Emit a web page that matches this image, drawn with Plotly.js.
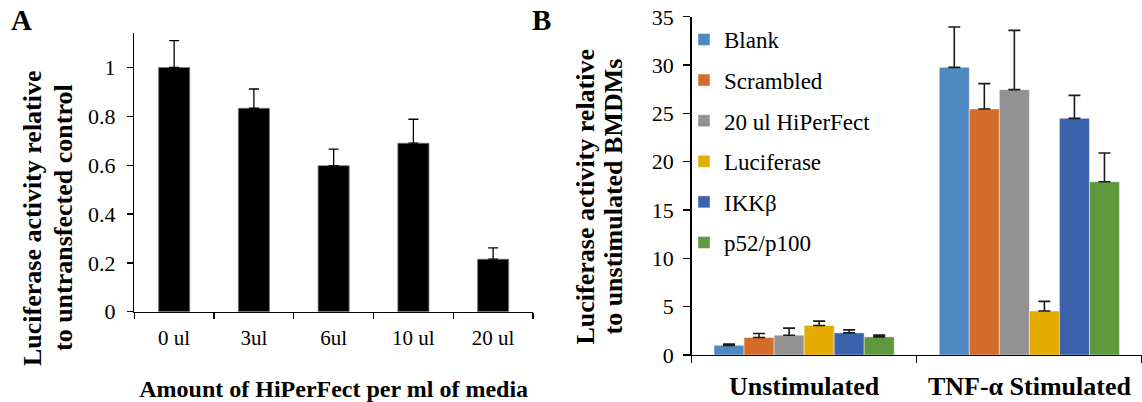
<!DOCTYPE html>
<html><head><meta charset="utf-8">
<script src="https://cdn.plot.ly/plotly-3.0.1.min.js"></script>
<style>html,body{margin:0;padding:0;background:#fff}#chart{width:1142px;height:402px}</style>
</head><body><div id="chart"></div>
<script>
// Panel A data
const doseLabels = ['0 ul', '3ul', '6ul', '10 ul', '20 ul'];
const doseValues = [1.0, 0.833, 0.598, 0.690, 0.215];
const doseErrors = [0.11, 0.079, 0.068, 0.098, 0.046];

// Panel B data
const conditions = ['Unstimulated', 'TNF-α Stimulated'];
const seriesNames = ['Blank', 'Scrambled', '20 ul HiPerFect', 'Luciferase', 'IKKβ', 'p52/p100'];
const blankValues = [1.0, 29.77];
const blankErrors = [0.14, 4.17];
const scrambledValues = [1.81, 25.46];
const scrambledErrors = [0.42, 2.62];
const hiperfectValues = [2.05, 27.46];
const hiperfectErrors = [0.73, 6.14];
const luciferaseValues = [3.06, 4.55];
const luciferaseErrors = [0.45, 1.0];
const ikkbValues = [2.29, 24.49];
const ikkbErrors = [0.31, 2.38];
const p52Values = [1.875, 17.93];
const p52Errors = [0.18, 2.97];
const seriesColors = ['#4F88BF', '#D46C2A', '#929292', '#E4AC00', '#3B63AC', '#60983E'];

// Axis titles
const titleA1 = 'Luciferase activity relative';
const titleA2 = 'to untransfected control';
const titleAx = 'Amount of HiPerFect per ml of media';
const titleB1 = 'Luciferase activity relative';
const titleB2 = 'to unstimulated BMDMs';

const serif = 'Liberation Serif, Times New Roman, serif';
const W = 1142, H = 402;
const px = v => v / W, py = v => (H - v) / H;

const bValues = [blankValues, scrambledValues, hiperfectValues, luciferaseValues, ikkbValues, p52Values];
const bErrors = [blankErrors, scrambledErrors, hiperfectErrors, luciferaseErrors, ikkbErrors, p52Errors];

const traces = [{
  type: 'bar', x: doseLabels, y: doseValues, xaxis: 'x', yaxis: 'y',
  width: 0.39, showlegend: false,
  marker: {color: '#000000', line: {color: '#7a7a7a', width: 0.8}},
  error_y: {type: 'data', array: doseErrors, symmetric: false, arrayminus: doseErrors.map(() => 0),
            color: '#000', thickness: 1.3, width: 5},
  hoverinfo: 'x+y'
}];

seriesNames.forEach((name, i) => {
  traces.push({
    type: 'bar', name: name, x: conditions, y: bValues[i], xaxis: 'x2', yaxis: 'y2',
    legendgroup: 'g' + i,
    marker: {color: seriesColors[i], line: {color: 'rgba(255,255,255,0.45)', width: 1}},
    error_y: {type: 'data', array: bErrors[i], symmetric: false, arrayminus: bErrors[i].map(() => 0),
              color: '#1a1a1a', thickness: 1.6, width: 6}
  });
});

const ytitle = (text, x, y) => ({
  text: '<b>' + text + '</b>', xref: 'paper', yref: 'paper', x: px(x), y: py(y),
  xanchor: 'center', yanchor: 'middle', textangle: -90, showarrow: false,
  font: {family: serif, size: 26, color: '#000'}
});

const layout = {
  width: W, height: H,
  margin: {l: 0, r: 0, t: 0, b: 0},
  paper_bgcolor: '#fff', plot_bgcolor: '#fff',
  font: {family: serif, color: '#000', size: 20},
  barmode: 'group', bargap: 0.2, bargroupgap: 0,
  showlegend: true,
  legend: {
    x: px(684), y: py(18), xanchor: 'left', yanchor: 'top',
    font: {family: serif, size: 23, color: '#000'},
    tracegroupgap: 7.7, bgcolor: 'rgba(0,0,0,0)', borderwidth: 0
  },
  xaxis: {
    domain: [px(134.3), px(533)], anchor: 'y', type: 'category',
    range: [-0.5, 4.5], tickson: 'boundaries',
    showline: true, linecolor: '#000', linewidth: 1.3,
    ticks: 'outside', ticklen: 6, tickcolor: '#000', tickwidth: 1.3,
    showgrid: false, zeroline: false, fixedrange: true,
    tickfont: {family: serif, size: 21}, ticklabelstandoff: 7,
    title: {text: '<b>' + titleAx + '</b>', font: {family: serif, size: 24}, standoff: 36}
  },
  yaxis: {
    domain: [py(311.7), py(33.3)], anchor: 'x',
    range: [0, 1.14], tick0: 0, dtick: 0.2,
    showline: true, linecolor: '#000', linewidth: 1.3,
    ticks: 'outside', ticklen: 6, tickcolor: '#000', tickwidth: 1.3,
    showgrid: false, zeroline: false, fixedrange: true,
    tickfont: {family: serif, size: 22}, ticklabelstandoff: 7
  },
  xaxis2: {
    domain: [px(691.5), 1], anchor: 'y2', type: 'category',
    range: [-0.5, 1.5], tickson: 'boundaries',
    tickvals: conditions, ticktext: conditions.map(c => '<b>' + c + '</b>'),
    showline: true, linecolor: '#000', linewidth: 1.3,
    ticks: 'outside', ticklen: 7, tickcolor: '#000', tickwidth: 1.3,
    showgrid: false, zeroline: false, fixedrange: true,
    tickfont: {family: serif, size: 26}, ticklabelstandoff: 7
  },
  yaxis2: {
    domain: [py(355), py(16.8)], anchor: 'x2',
    range: [0, 35], tick0: 0, dtick: 5,
    showline: true, linecolor: '#000', linewidth: 1.3,
    ticks: 'outside', ticklen: 7, tickcolor: '#000', tickwidth: 1.3,
    showgrid: false, zeroline: false, fixedrange: true,
    tickfont: {family: serif, size: 22}, ticklabelstandoff: 5
  },
  annotations: [
    {text: '<b>A</b>', xref: 'paper', yref: 'paper', x: px(21), y: py(20), xanchor: 'center', yanchor: 'middle',
     showarrow: false, font: {family: serif, size: 29}},
    {text: '<b>B</b>', xref: 'paper', yref: 'paper', x: px(541), y: py(20), xanchor: 'center', yanchor: 'middle',
     showarrow: false, font: {family: serif, size: 29}},
    ytitle(titleA1, 32, 218),
    ytitle(titleA2, 63, 218),
    ytitle(titleB1, 585, 196.5),
    ytitle(titleB2, 613, 196.5)
  ]
};

Plotly.newPlot('chart', traces, layout, {displayModeBar: false, staticPlot: true});
</script>
</body></html>
